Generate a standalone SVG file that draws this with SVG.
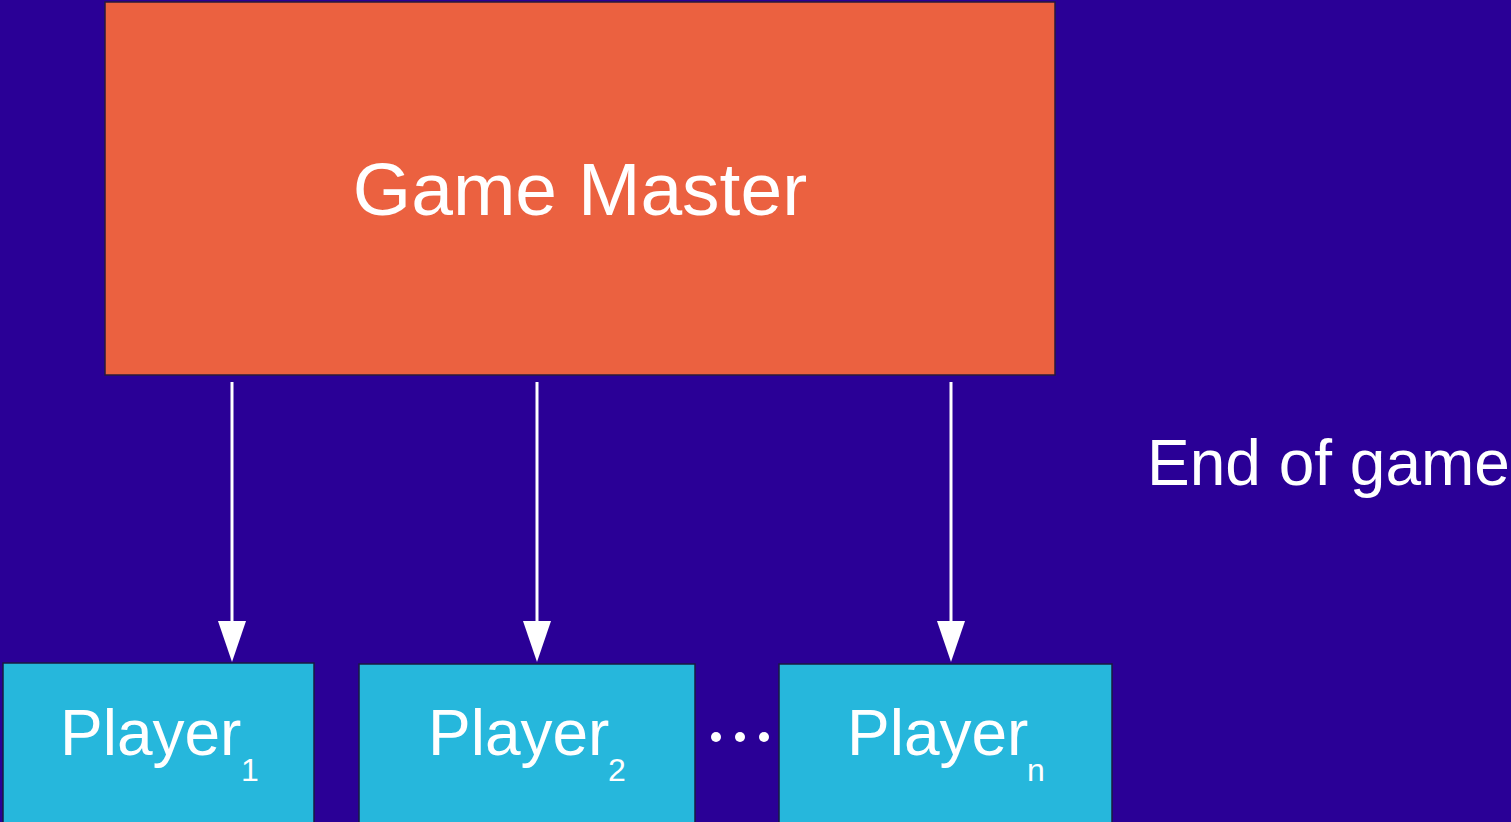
<svg xmlns="http://www.w3.org/2000/svg" width="1511" height="822" viewBox="0 0 1511 822">
  <defs>
    <style>
      .bg { fill: #2a0096; }
      .master { fill: #eb6140; stroke: #2a1a3a; stroke-width: 1.5; }
      .player { fill: #26b7dc; stroke: #1a1a40; stroke-width: 1.5; }
      .label { font-family: "Liberation Sans", Arial, sans-serif; fill: #ffffff; }
      .big { font-size: 64px; }
      .sub { font-size: 32px; }
      .edge { stroke: #ffffff; stroke-width: 3; fill: none; }
      .dot { fill: #ffffff; }
    </style>
    <marker id="arrow" viewBox="0 0 28 41" refX="14" refY="41" markerWidth="28" markerHeight="41" markerUnits="userSpaceOnUse" orient="auto-start-reverse">
      <polygon points="0,0 28,0 14,41" fill="#ffffff"/>
    </marker>
  </defs>

  <rect class="bg" x="0" y="0" width="1511" height="822"/>

  <g id="game-master">
    <rect class="master" x="105" y="2" width="950" height="373"/>
    <text class="label" x="580" y="215" font-size="75" text-anchor="middle">Game Master</text>
  </g>

  <g id="connectors">
    <line class="edge" x1="232" y1="382" x2="232" y2="622"/>
    <polygon points="218,621 246,621 232,662" fill="#ffffff"/>
    <line class="edge" x1="537" y1="382" x2="537" y2="622"/>
    <polygon points="523,621 551,621 537,662" fill="#ffffff"/>
    <line class="edge" x1="951" y1="382" x2="951" y2="622"/>
    <polygon points="937,621 965,621 951,662" fill="#ffffff"/>
  </g>

  <g id="player-1">
    <rect class="player" x="3" y="663" width="311" height="165"/>
    <text class="label big" x="60" y="755">Player</text>
    <text class="label sub" x="241" y="781">1</text>
  </g>

  <g id="player-2">
    <rect class="player" x="359" y="664" width="336" height="165"/>
    <text class="label big" x="428" y="755">Player</text>
    <text class="label sub" x="608" y="781">2</text>
  </g>

  <g id="ellipsis">
    <circle class="dot" cx="716" cy="737" r="5"/>
    <circle class="dot" cx="740" cy="737" r="5"/>
    <circle class="dot" cx="764" cy="737" r="5"/>
  </g>

  <g id="player-n">
    <rect class="player" x="779" y="664" width="333" height="165"/>
    <text class="label big" x="847" y="755">Player</text>
    <text class="label sub" x="1027" y="781">n</text>
  </g>

  <g id="end-of-game">
    <text class="label big" x="1147" y="485">End of game</text>
  </g>
</svg>
